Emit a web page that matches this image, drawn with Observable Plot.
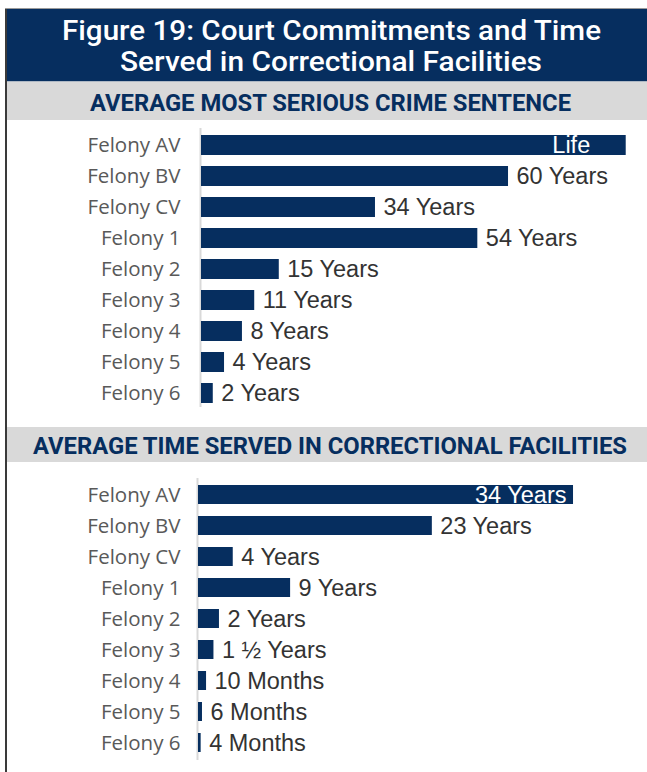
<!DOCTYPE html>
<html>
<head>
<meta charset="utf-8">
<script src="https://cdn.jsdelivr.net/npm/d3@7"></script>
<script src="https://cdn.jsdelivr.net/npm/@observablehq/plot@0.6"></script>
<style>
  html, body { margin: 0; padding: 0; background: #fff; }
  #page { position: relative; width: 647px; height: 772px; overflow: hidden; }
  .abs { position: absolute; }
</style>
</head>
<body>
<div id="page"></div>
<script>
// ---- Data ----
const titleLines = ["Figure 19: Court Commitments and Time", "Served in Correctional Facilities"];
const section1Title = "AVERAGE MOST SERIOUS CRIME SENTENCE";
const section2Title = "AVERAGE TIME SERVED IN CORRECTIONAL FACILITIES";

const categories = ["Felony AV", "Felony BV", "Felony CV", "Felony 1", "Felony 2", "Felony 3", "Felony 4", "Felony 5", "Felony 6"];

// Average most serious crime sentence (years; "Life" drawn as the longest bar)
const sentenceYears = [83, 60, 34, 54, 15.2, 10.4, 8, 4.5, 2.3];
const sentenceLabels = ["Life", "60 Years", "34 Years", "54 Years", "15 Years", "11 Years", "8 Years", "4 Years", "2 Years"];

// Average time served in correctional facilities (years)
const servedYears = [34, 21.2, 3.15, 8.35, 1.9, 1.4, 0.73, 0.36, 0.24];
const servedLabels = ["34 Years", "23 Years", "4 Years", "9 Years", "2 Years", "1 \u00BD Years", "10 Months", "6 Months", "4 Months"];

// ---- Styles ----
const NAVY = "#062e5f";
const BAND = "#d9d9d9";

const page = document.getElementById("page");

// Frame lines
const leftLine = document.createElement("div");
leftLine.className = "abs";
Object.assign(leftLine.style, {left: "5px", top: "8px", width: "2px", height: "764px", background: "#3a3a3a"});
const topLine = document.createElement("div");
topLine.className = "abs";
Object.assign(topLine.style, {left: "5px", top: "8px", width: "642px", height: "1px", background: "#9a9a9a"});

// Header SVG (title box + first band)
function headerSvg(top, height, draw) {
  const svg = d3.create("svg").attr("width", 647).attr("height", height)
    .attr("class", "abs").style("left", "0px").style("top", top + "px");
  draw(svg);
  return svg.node();
}

const head = headerSvg(0, 120, svg => {
  svg.append("rect").attr("x", 7).attr("y", 9).attr("width", 640).attr("height", 72.5).attr("fill", NAVY);
  svg.append("rect").attr("x", 7).attr("y", 81.5).attr("width", 640).attr("height", 38.5).attr("fill", BAND);
  const tl = [[62, 601, 39.5], [120, 542, 71]];
  titleLines.forEach((t, i) => {
    svg.append("text").text(t)
      .attr("x", tl[i][0]).attr("y", tl[i][2])
      .attr("textLength", tl[i][1] - tl[i][0]).attr("lengthAdjust", "spacingAndGlyphs")
      .attr("fill", "#fff").attr("font-family", "Roboto").attr("font-weight", 500).attr("font-size", 27);
  });
  svg.append("text").text(section1Title)
    .attr("x", 90).attr("y", 111)
    .attr("textLength", 481).attr("lengthAdjust", "spacingAndGlyphs")
    .attr("fill", NAVY).attr("font-family", "Roboto").attr("font-weight", 700).attr("font-size", 23.5);
});

const head2 = headerSvg(420, 42, svg => {
  svg.append("rect").attr("x", 7).attr("y", 7).attr("width", 640).attr("height", 35).attr("fill", BAND);
  svg.append("text").text(section2Title)
    .attr("x", 33).attr("y", 34.3)
    .attr("textLength", 594).attr("lengthAdjust", "spacingAndGlyphs")
    .attr("fill", NAVY).attr("font-family", "Roboto").attr("font-weight", 700).attr("font-size", 23.5);
});

function barChart({values, labels, height, yRange, padding, xDomain, xRange, marginTop, marginBottom, tickPadding, insideDx}) {
  const rows = categories.map((c, i) => ({category: c, value: values[i], label: labels[i]}));
  const maxV = d3.max(values);
  return Plot.plot({
    width: 647,
    height,
    marginLeft: xRange[0],
    marginRight: 0,
    marginTop,
    marginBottom,
    style: {fontFamily: "'Open Sans', sans-serif", color: "#595959", background: "transparent", overflow: "visible"},
    x: {domain: xDomain, range: xRange, axis: null},
    y: {domain: categories, range: yRange, padding, label: null},
    marks: [
      Plot.ruleX([0], {stroke: "#d9d9d9", strokeWidth: 2, dx: -1}),
      Plot.barX(rows, {x: "value", y: "category", fill: NAVY}),
      Plot.axisY({anchor: "left", tickSize: 0, tickPadding, fontSize: 20.5, label: null}),
      Plot.text(rows.filter(d => d.value !== maxV), {
        x: "value", y: "category", text: "label", textAnchor: "start", dx: 8,
        fill: "#333333", fontSize: 23.5, fontFamily: "'Liberation Sans', Arial, sans-serif"
      }),
      Plot.text(rows.filter(d => d.value === maxV), {
        x: "value", y: "category", text: "label", textAnchor: "end", dx: insideDx,
        fill: "#ffffff", fontSize: 23.5, fontFamily: "'Liberation Sans', Arial, sans-serif"
      })
    ]
  });
}

const chart1 = barChart({
  values: sentenceYears, labels: sentenceLabels,
  height: 300, yRange: [3.6, 293.8], padding: 0.36,
  xDomain: [0, 100], xRange: [201, 201 + 5.117 * 100],
  marginTop: 8, marginBottom: 13, tickPadding: 21, insideDx: -36
});
chart1.classList.add("abs");
chart1.style.left = "0px";
chart1.style.top = "120px";

const chart2 = barChart({
  values: servedYears, labels: servedLabels,
  height: 310, yRange: [9.2, 304.8], padding: 0.384,
  xDomain: [0, 40], xRange: [198, 198 + 11.03 * 40],
  marginTop: 16, marginBottom: 12, tickPadding: 18, insideDx: -7
});
chart2.classList.add("abs");
chart2.style.left = "0px";
chart2.style.top = "462px";

page.append(head, chart1, head2, chart2, leftLine, topLine);
</script>
</body>
</html>
